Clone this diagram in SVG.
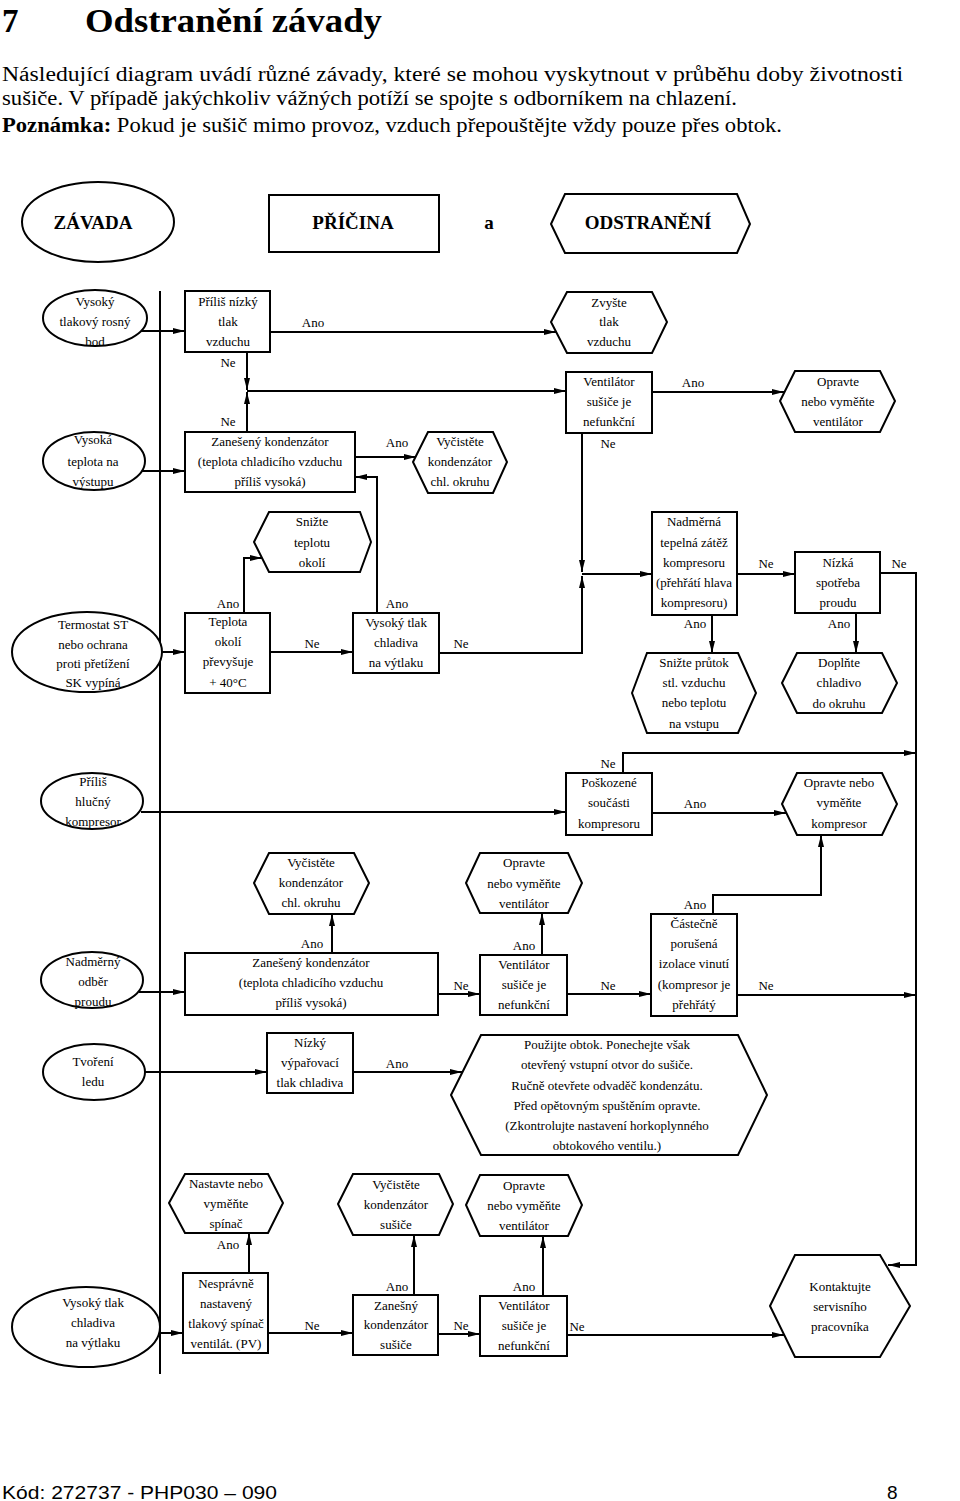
<svg xmlns="http://www.w3.org/2000/svg" width="960" height="1501" viewBox="0 0 960 1501">
<style>
.bg{fill:#fff}
.sh{fill:#fff;stroke:#000;stroke-width:2}
.c{fill:none;stroke:#000;stroke-width:2}
.t{font-family:"Liberation Serif","Times New Roman",serif;font-size:13px;fill:#000;text-anchor:middle}
.l{font-family:"Liberation Serif","Times New Roman",serif;font-size:13px;fill:#000;text-anchor:middle}
.h{font-family:"Liberation Serif","Times New Roman",serif;font-size:19px;font-weight:bold;fill:#000;text-anchor:middle}
.p{font-family:"Liberation Serif","Times New Roman",serif;font-size:20px;fill:#000}
</style>
<defs>
<marker id="ah" viewBox="0 0 12 6" refX="12" refY="3" markerWidth="12" markerHeight="6" orient="auto" markerUnits="userSpaceOnUse"><path d="M0,0 L12,3 L0,6 z" fill="#000"/></marker>
</defs>
<rect class="bg" x="0" y="0" width="960" height="1501"/>

<g id="page-text">
<text x="2" y="32" style="font-family:'Liberation Serif',serif;font-size:33px;font-weight:bold">7</text>
<text x="85" y="32" textLength="297" lengthAdjust="spacingAndGlyphs" style="font-family:'Liberation Serif',serif;font-size:33px;font-weight:bold">Odstranění závady</text>
<text class="p" x="2" y="81" textLength="901" lengthAdjust="spacingAndGlyphs">Následující diagram uvádí různé závady, které se mohou vyskytnout v průběhu doby životnosti</text>
<text class="p" x="2" y="105" textLength="735" lengthAdjust="spacingAndGlyphs">sušiče. V případě jakýchkoliv vážných potíží se spojte s odborníkem na chlazení.</text>
<text class="p" x="2" y="132" textLength="780" lengthAdjust="spacingAndGlyphs"><tspan font-weight="bold">Poznámka:</tspan> Pokud je sušič mimo provoz, vzduch přepouštějte vždy pouze přes obtok.</text>
<text x="2" y="1499" textLength="275" lengthAdjust="spacingAndGlyphs" style="font-family:'Liberation Sans',Arial,sans-serif;font-size:19px">Kód: 272737 - PHP030 – 090</text>
<text x="887" y="1499" style="font-family:'Liberation Sans',Arial,sans-serif;font-size:19px">8</text>
</g>

<g id="connectors">
<line class="c" x1="160" y1="291" x2="160" y2="1374"/>
<line class="c" x1="141" y1="331" x2="185" y2="331" marker-end="url(#ah)"/>
<line class="c" x1="270" y1="332" x2="556" y2="332" marker-end="url(#ah)"/>
<line class="c" x1="247" y1="352" x2="247" y2="390" marker-end="url(#ah)"/>
<line class="c" x1="247" y1="432" x2="247" y2="392" marker-end="url(#ah)"/>
<line class="c" x1="247" y1="391" x2="566" y2="391" marker-end="url(#ah)"/>
<line class="c" x1="652" y1="392" x2="784" y2="392" marker-end="url(#ah)"/>
<line class="c" x1="582" y1="433" x2="582" y2="572" marker-end="url(#ah)"/>
<line class="c" x1="140" y1="471" x2="185" y2="471" marker-end="url(#ah)"/>
<line class="c" x1="355" y1="457" x2="416" y2="457" marker-end="url(#ah)"/>
<polyline class="c" points="377,613 377,477 355,477" marker-end="url(#ah)"/>
<polyline class="c" points="244,613 244,558 262,558" marker-end="url(#ah)"/>
<line class="c" x1="162" y1="652" x2="185" y2="652" marker-end="url(#ah)"/>
<line class="c" x1="270" y1="652" x2="353" y2="652" marker-end="url(#ah)"/>
<polyline class="c" points="439,653 582,653 582,576" marker-end="url(#ah)"/>
<line class="c" x1="582" y1="574" x2="652" y2="574" marker-end="url(#ah)"/>
<line class="c" x1="737" y1="574" x2="795" y2="574" marker-end="url(#ah)"/>
<polyline class="c" points="880,573 916,573 916,1265 888,1265" marker-end="url(#ah)"/>
<line class="c" x1="712" y1="615" x2="712" y2="653" marker-end="url(#ah)"/>
<line class="c" x1="856" y1="613" x2="856" y2="653" marker-end="url(#ah)"/>
<line class="c" x1="141" y1="812" x2="566" y2="812" marker-end="url(#ah)"/>
<polyline class="c" points="623,773 623,753 916,753" marker-end="url(#ah)"/>
<line class="c" x1="652" y1="813" x2="786" y2="813" marker-end="url(#ah)"/>
<line class="c" x1="332" y1="953" x2="332" y2="914" marker-end="url(#ah)"/>
<line class="c" x1="139" y1="992" x2="185" y2="992" marker-end="url(#ah)"/>
<line class="c" x1="438" y1="994" x2="480" y2="994" marker-end="url(#ah)"/>
<line class="c" x1="542" y1="955" x2="542" y2="913" marker-end="url(#ah)"/>
<line class="c" x1="567" y1="994" x2="651" y2="994" marker-end="url(#ah)"/>
<polyline class="c" points="713,914 713,895 821,895 821,835" marker-end="url(#ah)"/>
<line class="c" x1="737" y1="995" x2="916" y2="995" marker-end="url(#ah)"/>
<line class="c" x1="145" y1="1072" x2="267" y2="1072" marker-end="url(#ah)"/>
<line class="c" x1="353" y1="1072" x2="462" y2="1072" marker-end="url(#ah)"/>
<line class="c" x1="249" y1="1273" x2="249" y2="1233" marker-end="url(#ah)"/>
<line class="c" x1="159" y1="1333" x2="183" y2="1333" marker-end="url(#ah)"/>
<line class="c" x1="268" y1="1333" x2="353" y2="1333" marker-end="url(#ah)"/>
<line class="c" x1="414" y1="1295" x2="414" y2="1235" marker-end="url(#ah)"/>
<line class="c" x1="438" y1="1334" x2="480" y2="1334" marker-end="url(#ah)"/>
<line class="c" x1="543" y1="1296" x2="543" y2="1236" marker-end="url(#ah)"/>
<line class="c" x1="567" y1="1335" x2="784" y2="1335" marker-end="url(#ah)"/>
</g>

<g id="labels">
<text class="l" x="313" y="327">Ano</text>
<text class="l" x="228" y="367">Ne</text>
<text class="l" x="228" y="426">Ne</text>
<text class="l" x="693" y="387">Ano</text>
<text class="l" x="608" y="448">Ne</text>
<text class="l" x="397" y="447">Ano</text>
<text class="l" x="228" y="608">Ano</text>
<text class="l" x="397" y="608">Ano</text>
<text class="l" x="312" y="648">Ne</text>
<text class="l" x="461" y="648">Ne</text>
<text class="l" x="766" y="568">Ne</text>
<text class="l" x="899" y="568">Ne</text>
<text class="l" x="695" y="628">Ano</text>
<text class="l" x="839" y="628">Ano</text>
<text class="l" x="608" y="768">Ne</text>
<text class="l" x="695" y="808">Ano</text>
<text class="l" x="312" y="948">Ano</text>
<text class="l" x="524" y="950">Ano</text>
<text class="l" x="461" y="990">Ne</text>
<text class="l" x="608" y="990">Ne</text>
<text class="l" x="695" y="909">Ano</text>
<text class="l" x="766" y="990">Ne</text>
<text class="l" x="397" y="1068">Ano</text>
<text class="l" x="228" y="1249">Ano</text>
<text class="l" x="312" y="1330">Ne</text>
<text class="l" x="397" y="1291">Ano</text>
<text class="l" x="461" y="1330">Ne</text>
<text class="l" x="524" y="1291">Ano</text>
<text class="l" x="577" y="1331">Ne</text>
</g>

<g id="hdr-zavada"><ellipse class="sh" cx="98" cy="222" rx="76" ry="40"/><text class="h" x="93" y="229">ZÁVADA</text></g>
<g id="hdr-pricina"><rect class="sh" x="269" y="195" width="170" height="57"/><text class="h" x="353" y="229">PŘÍČINA</text></g>
<g id="hdr-a"><text class="h" x="489" y="229" style="font-weight:bold">a</text></g>
<g id="hdr-odstraneni"><polygon class="sh" points="551,224 565,194 737,194 750,224 737,253 565,253"/><text class="h" x="648" y="229">ODSTRANĚNÍ</text></g>

<g id="f1"><ellipse class="sh" cx="95" cy="318" rx="52" ry="28"/><text class="t"><tspan x="95" y="306">Vysoký</tspan><tspan x="95" y="326">tlakový rosný</tspan><tspan x="95" y="346">bod</tspan></text></g>
<g id="c1"><rect class="sh" x="185" y="291" width="85" height="61"/><text class="t"><tspan x="228" y="306">Příliš nízký</tspan><tspan x="228" y="326">tlak</tspan><tspan x="228" y="346">vzduchu</tspan></text></g>
<g id="r1"><polygon class="sh" points="551,322 567,292 652,292 667,322 652,353 567,353"/><text class="t"><tspan x="609" y="307">Zvyšte</tspan><tspan x="609" y="326">tlak</tspan><tspan x="609" y="346">vzduchu</tspan></text></g>
<g id="c2"><rect class="sh" x="566" y="372" width="86" height="61"/><text class="t"><tspan x="609" y="386">Ventilátor</tspan><tspan x="609" y="406">sušiče je</tspan><tspan x="609" y="426">nefunkční</tspan></text></g>
<g id="r2"><polygon class="sh" points="780,401 795,371 880,371 895,401 880,432 795,432"/><text class="t"><tspan x="838" y="386">Opravte</tspan><tspan x="838" y="406">nebo vyměňte</tspan><tspan x="838" y="426">ventilátor</tspan></text></g>

<g id="f2"><ellipse class="sh" cx="94" cy="461" rx="51" ry="29"/><text class="t"><tspan x="93" y="444">Vysoká</tspan><tspan x="93" y="466">teplota na</tspan><tspan x="93" y="486">výstupu</tspan></text></g>
<g id="c3"><rect class="sh" x="185" y="432" width="170" height="60"/><text class="t"><tspan x="270" y="446">Zanešený kondenzátor</tspan><tspan x="270" y="466">(teplota chladicího vzduchu</tspan><tspan x="270" y="486">příliš vysoká)</tspan></text></g>
<g id="r3"><polygon class="sh" points="413,462 428,432 493,432 507,462 493,493 428,493"/><text class="t"><tspan x="460" y="446">Vyčistěte</tspan><tspan x="460" y="466">kondenzátor</tspan><tspan x="460" y="486">chl. okruhu</tspan></text></g>

<g id="r4"><polygon class="sh" points="254,542 269,512 360,512 371,542 360,572 269,572"/><text class="t"><tspan x="312" y="526">Snižte</tspan><tspan x="312" y="547">teplotu</tspan><tspan x="312" y="567">okolí</tspan></text></g>
<g id="f3"><ellipse class="sh" cx="87" cy="652" rx="75" ry="40"/><text class="t"><tspan x="93" y="629">Termostat ST</tspan><tspan x="93" y="649">nebo ochrana</tspan><tspan x="93" y="668">proti přetížení</tspan><tspan x="93" y="687">SK vypíná</tspan></text></g>
<g id="c4"><rect class="sh" x="185" y="613" width="85" height="80"/><text class="t"><tspan x="228" y="626">Teplota</tspan><tspan x="228" y="646">okolí</tspan><tspan x="228" y="666">převyšuje</tspan><tspan x="228" y="687">+ 40°C</tspan></text></g>
<g id="c5"><rect class="sh" x="353" y="613" width="86" height="60"/><text class="t"><tspan x="396" y="627">Vysoký tlak</tspan><tspan x="396" y="647">chladiva</tspan><tspan x="396" y="667">na výtlaku</tspan></text></g>
<g id="c6"><rect class="sh" x="652" y="512" width="85" height="103"/><text class="t"><tspan x="694" y="526">Nadměrná</tspan><tspan x="694" y="547">tepelná zátěž</tspan><tspan x="694" y="567">kompresoru</tspan><tspan x="694" y="587">(přehřátí hlava</tspan><tspan x="694" y="607">kompresoru)</tspan></text></g>
<g id="c7"><rect class="sh" x="795" y="552" width="85" height="61"/><text class="t"><tspan x="838" y="567">Nízká</tspan><tspan x="838" y="587">spotřeba</tspan><tspan x="838" y="607">proudu</tspan></text></g>
<g id="r5"><polygon class="sh" points="632,693 647,653 738,653 756,693 738,733 647,733"/><text class="t"><tspan x="694" y="667">Snižte průtok</tspan><tspan x="694" y="687">stl. vzduchu</tspan><tspan x="694" y="707">nebo teplotu</tspan><tspan x="694" y="728">na vstupu</tspan></text></g>
<g id="r6"><polygon class="sh" points="782,683 797,653 882,653 897,683 882,713 797,713"/><text class="t"><tspan x="839" y="667">Doplňte</tspan><tspan x="839" y="687">chladivo</tspan><tspan x="839" y="708">do okruhu</tspan></text></g>

<g id="f4"><ellipse class="sh" cx="92" cy="801" rx="51" ry="28"/><text class="t"><tspan x="93" y="786">Příliš</tspan><tspan x="93" y="806">hlučný</tspan><tspan x="93" y="826">kompresor</tspan></text></g>
<g id="c8"><rect class="sh" x="566" y="773" width="86" height="62"/><text class="t"><tspan x="609" y="787">Poškozené</tspan><tspan x="609" y="807">součásti</tspan><tspan x="609" y="828">kompresoru</tspan></text></g>
<g id="r7"><polygon class="sh" points="782,804 797,773 882,773 897,804 882,835 797,835"/><text class="t"><tspan x="839" y="787">Opravte nebo</tspan><tspan x="839" y="807">vyměňte</tspan><tspan x="839" y="828">kompresor</tspan></text></g>

<g id="r8"><polygon class="sh" points="254,883 269,853 354,853 369,883 354,914 269,914"/><text class="t"><tspan x="311" y="867">Vyčistěte</tspan><tspan x="311" y="887">kondenzátor</tspan><tspan x="311" y="907">chl. okruhu</tspan></text></g>
<g id="r9"><polygon class="sh" points="466,883 480,853 568,853 582,883 568,913 480,913"/><text class="t"><tspan x="524" y="867">Opravte</tspan><tspan x="524" y="888">nebo vyměňte</tspan><tspan x="524" y="908">ventilátor</tspan></text></g>
<g id="f5"><ellipse class="sh" cx="92" cy="980" rx="51" ry="28"/><text class="t"><tspan x="93" y="966">Nadměrný</tspan><tspan x="93" y="986">odběr</tspan><tspan x="93" y="1006">proudu</tspan></text></g>
<g id="c9"><rect class="sh" x="185" y="953" width="253" height="62"/><text class="t"><tspan x="311" y="967">Zanešený kondenzátor</tspan><tspan x="311" y="987">(teplota chladicího vzduchu</tspan><tspan x="311" y="1007">příliš vysoká)</tspan></text></g>
<g id="c10"><rect class="sh" x="480" y="955" width="87" height="60"/><text class="t"><tspan x="524" y="969">Ventilátor</tspan><tspan x="524" y="989">sušiče je</tspan><tspan x="524" y="1009">nefunkční</tspan></text></g>
<g id="c11"><rect class="sh" x="651" y="914" width="86" height="102"/><text class="t"><tspan x="694" y="928">Částečně</tspan><tspan x="694" y="948">porušená</tspan><tspan x="694" y="968">izolace vinutí</tspan><tspan x="694" y="989">(kompresor je</tspan><tspan x="694" y="1009">přehřátý</tspan></text></g>

<g id="f6"><ellipse class="sh" cx="94" cy="1072" rx="51" ry="28"/><text class="t"><tspan x="93" y="1066">Tvoření</tspan><tspan x="93" y="1086">ledu</tspan></text></g>
<g id="c12"><rect class="sh" x="267" y="1033" width="86" height="60"/><text class="t"><tspan x="310" y="1047">Nízký</tspan><tspan x="310" y="1067">výpařovací</tspan><tspan x="310" y="1087">tlak chladiva</tspan></text></g>
<g id="r10"><polygon class="sh" points="451,1095 481,1035 738,1035 767,1095 738,1155 481,1155"/><text class="t"><tspan x="607" y="1049">Použijte obtok. Ponechejte však</tspan><tspan x="607" y="1069">otevřený vstupní otvor do sušiče.</tspan><tspan x="607" y="1090">Ručně otevřete odvaděč kondenzátu.</tspan><tspan x="607" y="1110">Před opětovným spuštěním opravte.</tspan><tspan x="607" y="1130">(Zkontrolujte nastavení horkoplynného</tspan><tspan x="607" y="1150">obtokového ventilu.)</tspan></text></g>

<g id="r11"><polygon class="sh" points="169,1203 185,1174 268,1174 283,1203 268,1233 185,1233"/><text class="t"><tspan x="226" y="1188">Nastavte nebo</tspan><tspan x="226" y="1208">vyměňte</tspan><tspan x="226" y="1228">spínač</tspan></text></g>
<g id="r12"><polygon class="sh" points="338,1204 353,1174 439,1174 453,1204 439,1235 353,1235"/><text class="t"><tspan x="396" y="1189">Vyčistěte</tspan><tspan x="396" y="1209">kondenzátor</tspan><tspan x="396" y="1229">sušiče</tspan></text></g>
<g id="r13"><polygon class="sh" points="466,1205 480,1175 568,1175 582,1205 568,1236 480,1236"/><text class="t"><tspan x="524" y="1190">Opravte</tspan><tspan x="524" y="1210">nebo vyměňte</tspan><tspan x="524" y="1230">ventilátor</tspan></text></g>
<g id="f7"><ellipse class="sh" cx="86" cy="1327" rx="74" ry="40"/><text class="t"><tspan x="93" y="1307">Vysoký tlak</tspan><tspan x="93" y="1327">chladiva</tspan><tspan x="93" y="1347">na výtlaku</tspan></text></g>
<g id="c13"><rect class="sh" x="183" y="1273" width="85" height="80"/><text class="t"><tspan x="226" y="1288">Nesprávně</tspan><tspan x="226" y="1308">nastavený</tspan><tspan x="226" y="1328">tlakový spínač</tspan><tspan x="226" y="1348">ventilát. (PV)</tspan></text></g>
<g id="c14"><rect class="sh" x="353" y="1295" width="85" height="60"/><text class="t"><tspan x="396" y="1310">Zanešný</tspan><tspan x="396" y="1329">kondenzátor</tspan><tspan x="396" y="1349">sušiče</tspan></text></g>
<g id="c15"><rect class="sh" x="480" y="1296" width="87" height="60"/><text class="t"><tspan x="524" y="1310">Ventilátor</tspan><tspan x="524" y="1330">sušiče je</tspan><tspan x="524" y="1350">nefunkční</tspan></text></g>
<g id="r14"><polygon class="sh" points="770,1306 795,1255 880,1255 910,1306 880,1357 795,1357"/><text class="t"><tspan x="840" y="1291">Kontaktujte</tspan><tspan x="840" y="1311">servisního</tspan><tspan x="840" y="1331">pracovníka</tspan></text></g>
</svg>
